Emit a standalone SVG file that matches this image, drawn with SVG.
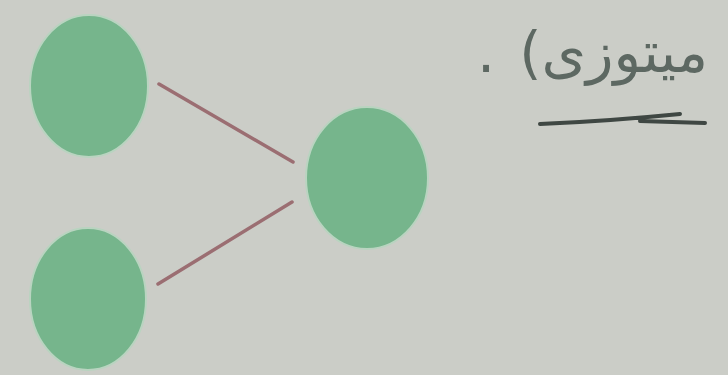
<svg xmlns="http://www.w3.org/2000/svg" width="728" height="375" viewBox="0 0 728 375">
<style>
.node{fill:#76b58c;stroke:#b9d4c0;stroke-width:2}
.edge{stroke:#9b6e72;stroke-width:3.5;stroke-linecap:round;fill:none}
.label{font-family:"DejaVu Sans","Noto Sans",sans-serif;font-size:57px;fill:#5d6862}
</style>
<rect width="728" height="375" fill="#cbcdc7"/>
<g id="connectors">
<line class="edge" x1="159" y1="84" x2="293" y2="162"/>
<line class="edge" x1="158" y1="284" x2="292" y2="202"/>
</g>
<g id="node-top-left"><ellipse class="node" cx="89" cy="86" rx="59" ry="71"/></g>
<g id="node-bottom-left"><ellipse class="node" cx="88" cy="299" rx="58" ry="71"/></g>
<g id="node-right"><ellipse class="node" cx="367" cy="178" rx="61" ry="71"/></g>
<g id="label">
<text class="label" x="708" y="72" direction="rtl" text-anchor="start" word-spacing="6">میتوزی) .</text>
<path d="M540 124 C590 122 640 118 680 114 M640 121 L705 123" stroke="#3f4743" stroke-width="4" fill="none" stroke-linecap="round"/>
</g>
</svg>
